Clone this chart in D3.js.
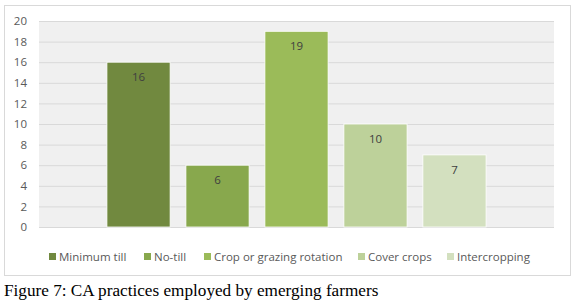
<!DOCTYPE html>
<html>
<head>
<meta charset="utf-8">
<script src="https://cdn.jsdelivr.net/npm/d3@7"></script>
<style>
  body { margin: 0; background: #fff; }
  svg { display: block; }
</style>
</head>
<body>
<script>
// données
const practices = ["Minimum till", "No-till", "Crop or grazing rotation", "Cover crops", "Intercropping"];
const farmers = [16, 6, 19, 10, 7];
const yTicks = [0, 2, 4, 6, 8, 10, 12, 14, 16, 18, 20];
const barColors = ["#71893f", "#88a84d", "#9bbb59", "#bdd19a", "#d3e0bf"];
const caption = "Figure 7: CA practices employed by emerging farmers";

const W = 580, H = 304;
const plot = { left: 39, right: 554, top: 21, bottom: 227 };

const svg = d3.select("body").append("svg")
  .attr("width", W)
  .attr("height", H);

// cadre du graphique
svg.append("rect")
  .attr("x", 4.5).attr("y", 5.5)
  .attr("width", 566).attr("height", 270)
  .attr("fill", "#fff")
  .attr("stroke", "#d9d9d9");

// échelles
const y = d3.scaleLinear().domain([0, 20]).range([plot.bottom, plot.top]);
const x = d3.scaleBand()
  .domain(practices)
  .range([plot.left, plot.right])
  .paddingInner(0.2)
  .paddingOuter(0.86);
const color = d3.scaleOrdinal().domain(practices).range(barColors);

// fond de la zone de tracé
svg.append("rect")
  .attr("x", plot.left).attr("y", plot.top)
  .attr("width", plot.right - plot.left)
  .attr("height", plot.bottom - plot.top)
  .attr("fill", "#f0f0f0");

// axe Y + lignes horizontales
svg.append("g")
  .attr("transform", `translate(${plot.left}, 0)`)
  .call(d3.axisLeft(y).tickValues(yTicks).tickSize(0).tickPadding(12))
  .call(g => g.select(".domain").remove())
  .call(g => g.selectAll(".tick line").clone()
    .attr("x2", plot.right - plot.left)
    .attr("stroke", "#d9d9d9"))
  .call(g => g.selectAll("text")
    .attr("fill", "#595959")
    .style("font-family", "'Open Sans', sans-serif")
    .style("font-size", "11.5px"));

// barres
svg.append("g")
  .selectAll("rect")
  .data(practices)
  .join("rect")
  .attr("x", d => x(d))
  .attr("y", (d, i) => y(farmers[i]))
  .attr("width", x.bandwidth())
  .attr("height", (d, i) => y(0) - y(farmers[i]))
  .attr("fill", d => color(d))
  .attr("stroke", "#fff")
  .attr("stroke-width", 0.8);

// étiquettes de valeurs
svg.append("g")
  .selectAll("text")
  .data(practices)
  .join("text")
  .attr("x", d => x(d) + x.bandwidth() / 2)
  .attr("y", (d, i) => y(farmers[i]) + 19)
  .attr("text-anchor", "middle")
  .attr("fill", "#404040")
  .style("font-family", "'Open Sans', sans-serif")
  .style("font-size", "11.5px")
  .text((d, i) => farmers[i]);

// légende
const legendX = [49, 144, 204, 358, 447];
const legend = svg.append("g")
  .selectAll("g")
  .data(practices)
  .join("g")
  .attr("transform", (d, i) => `translate(${legendX[i]}, 253)`);

legend.append("rect")
  .attr("width", 7).attr("height", 7)
  .attr("fill", d => color(d));

legend.append("text")
  .attr("x", 10).attr("y", 8)
  .attr("fill", "#595959")
  .style("font-family", "'Open Sans', sans-serif")
  .style("font-size", "11.5px")
  .text(d => d);

// légende de figure
svg.append("text")
  .attr("x", 4).attr("y", 296)
  .attr("fill", "#000")
  .style("font-family", "'Liberation Serif', 'Times New Roman', serif")
  .style("font-size", "17.2px")
  .text(caption);
</script>
</body>
</html>
